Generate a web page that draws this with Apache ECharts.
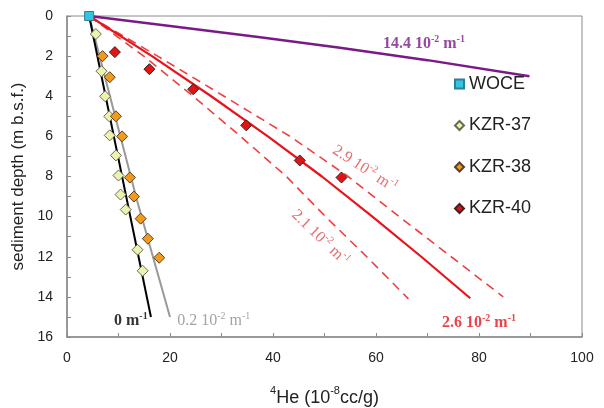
<!DOCTYPE html>
<html><head><meta charset="utf-8">
<script src="https://cdn.jsdelivr.net/npm/echarts@6/dist/echarts.min.js"></script>
<style>html,body{margin:0;padding:0;background:#fff}#c{width:604px;height:408px}</style>
</head><body><div id="c"></div>
<script>
// ---- data (x = 4He in 1e-8 cc/g, y = depth m) ----
const xTicks = [0, 20, 40, 60, 80, 100];
const yTicks = [0, 2, 4, 6, 8, 10, 12, 14, 16];
const legendNames = ['WOCE', 'KZR-37', 'KZR-38', 'KZR-40'];
const woce = [[4.3, 0]];
const kzr37 = [[5.6,0.9],[6.7,2.75],[7.4,4.0],[8.2,5.0],[8.3,5.95],[9.5,6.95],[10.0,7.95],[10.4,8.9],[11.4,9.65],[13.7,11.65],[14.7,12.7]];
const kzr38 = [[6.9,2.0],[8.3,3.05],[9.5,5.0],[10.7,6.0],[12.2,8.05],[13.0,9.0],[14.3,10.1],[15.7,11.1],[17.9,12.05]];
const kzr40 = [[9.3,1.8],[16.0,2.65],[24.5,3.65],[34.8,5.45],[45.2,7.2],[53.3,8.05]];
const model0 = [[4.3,0],[16.3,15]];
const model02 = [[4.3,0],[13.6,9.2],[20.0,15]];
const model144 = [[4.3,0],[20.0,0.5],[37.5,1.06],[53.0,1.58],[70.0,2.2],[89.8,3.0]];
const model26 = [[4.3,0],[16.5,2],[28.0,4],[39.0,6],[49.5,8],[59.3,10],[68.8,12],[78.3,14.07]];
const model29 = [[4.3,0],[17.6,2],[30.5,4],[43.3,6],[54.6,8],[64.5,10],[74.6,12],[84.7,14]];
const model21 = [[4.3,0],[14.9,2],[24.5,4],[33.7,6],[42.6,8],[50.2,10],[58.2,12],[66.3,14.1]];
const annText = ['14.4', '2.9', '2.1', '2.6', '0', '0.2'];
const annPos = [[69.3,1.35],[57.9,7.58],[49.3,11.02],[80.0,15.25],[12.4,15.15],[28.5,15.15]];

const SERIF = '"Liberation Serif","Times New Roman",serif';
const SANS = '"Liberation Sans",Arial,sans-serif';

function richFor(color, weight) {
  return {
    n: {fontSize: 16, fontFamily: SERIF, color: color, fontWeight: weight, lineHeight: 18, verticalAlign: 'bottom'},
    s: {fontSize: 10, fontFamily: SERIF, color: color, fontWeight: weight, lineHeight: 18, verticalAlign: 'top'}
  };
}
function annLabel(t) {
  if (t === '0') return '{n|0 m}{s|-1}';
  return '{n|' + t + ' 10}{s|-2}{n| m}{s|-1}';
}
const annStyle = [
  {color: '#7a1a86', weight: 'bold', rotate: 0},
  {color: '#e04a4a', weight: 'normal', rotate: -33},
  {color: '#e04a4a', weight: 'normal', rotate: -44},
  {color: '#e3141c', weight: 'bold', rotate: 0},
  {color: '#000000', weight: 'bold', rotate: 0},
  {color: '#8c8c8c', weight: 'normal', rotate: 0}
];

function lineSeries(data, color, width, type) {
  return {type: 'line', data: data, symbol: 'none', silent: true, z: 2,
    lineStyle: {color: color, width: width, type: type || 'solid', dashOffset: 0},
    animation: false};
}
function ptSeries(name, data, symbol, size, fill, border) {
  return {type: 'scatter', name: name, data: data, symbol: symbol, symbolSize: size, z: 5,
    itemStyle: {color: fill, borderColor: border, borderWidth: 1, opacity: 1}, animation: false};
}

const chart = echarts.init(document.getElementById('c'), null, {renderer: 'canvas'});
chart.setOption({
  animation: false,
  backgroundColor: '#ffffff',
  grid: {left: 67, right: 22, top: 16, bottom: 71, show: true, borderColor: '#8a8a8a', borderWidth: 1,
    containLabel: false, outerBoundsMode: 'none'},
  xAxis: {
    type: 'value', min: xTicks[0], max: xTicks[xTicks.length - 1], interval: 20,
    name: '{s|4}{n|He (10}{s|-8}{n|cc/g)}', nameLocation: 'middle', nameGap: 48,
    nameTextStyle: {rich: {
      n: {fontSize: 18, fontFamily: SANS, color: '#222', lineHeight: 22, verticalAlign: 'bottom'},
      s: {fontSize: 11, fontFamily: SANS, color: '#222', lineHeight: 22, verticalAlign: 'top'}}},
    axisLine: {show: true, onZero: false, lineStyle: {color: '#8a8a8a', width: 1.5}},
    axisTick: {show: true, inside: true, length: 4, lineStyle: {color: '#8a8a8a'}},
    minorTick: {show: true, splitNumber: 2, length: 4, lineStyle: {color: '#8a8a8a'}},
    axisLabel: {fontSize: 14, fontFamily: SANS, color: '#222', margin: 14},
    splitLine: {show: false}
  },
  yAxis: {
    type: 'value', inverse: true, min: yTicks[0], max: yTicks[yTicks.length - 1], interval: 2,
    name: 'sediment depth (m b.s.f.)', nameLocation: 'middle', nameGap: 36,
    nameTextStyle: {fontSize: 17, fontFamily: SANS, color: '#222'},
    axisLine: {show: true, onZero: false, lineStyle: {color: '#8a8a8a', width: 1.5}},
    axisTick: {show: true, inside: true, length: 4, lineStyle: {color: '#8a8a8a'}},
    minorTick: {show: true, splitNumber: 2, length: 4, lineStyle: {color: '#8a8a8a'}},
    axisLabel: {fontSize: 14, fontFamily: SANS, color: '#222', margin: 14},
    splitLine: {show: false}
  },
  legend: {
    orient: 'vertical', left: 449, top: 70, itemWidth: 9, itemHeight: 9, itemGap: 23.5,
    selectedMode: false,
    textStyle: {fontSize: 18, fontFamily: SANS, color: '#222'},
    data: [
      {name: legendNames[0], icon: 'rect'},
      {name: legendNames[1], icon: 'diamond'},
      {name: legendNames[2], icon: 'diamond'},
      {name: legendNames[3], icon: 'diamond'}
    ]
  },
  series: [
    lineSeries(model144, '#7a1a86', 2.5),
    lineSeries(model29, '#ee4040', 1.6, [9, 6]),
    lineSeries(model21, '#ee4040', 1.6, [9, 6]),
    lineSeries(model26, '#e8141c', 2.2),
    lineSeries(model02, '#999999', 2),
    lineSeries(model0, '#000000', 2),
    ptSeries(legendNames[1], kzr37, 'diamond', 11, '#eef2b0', '#6a6a50'),
    ptSeries(legendNames[2], kzr38, 'diamond', 11, '#f29a1e', '#5a4020'),
    ptSeries(legendNames[3], kzr40, 'diamond', 11, '#e01414', '#442020'),
    ptSeries(legendNames[0], woce, 'rect', 9, '#35c3e0', '#2a7f99'),
    {
      type: 'scatter', silent: true, symbolSize: 0, z: 6, animation: false,
      data: annPos.map(function (p, i) {
        const st = annStyle[i];
        return {value: p, label: {show: true, position: 'inside', rotate: st.rotate,
          formatter: annLabel(annText[i]), rich: richFor(st.color, st.weight)}};
      })
    }
  ]
});
</script>
</body></html>
